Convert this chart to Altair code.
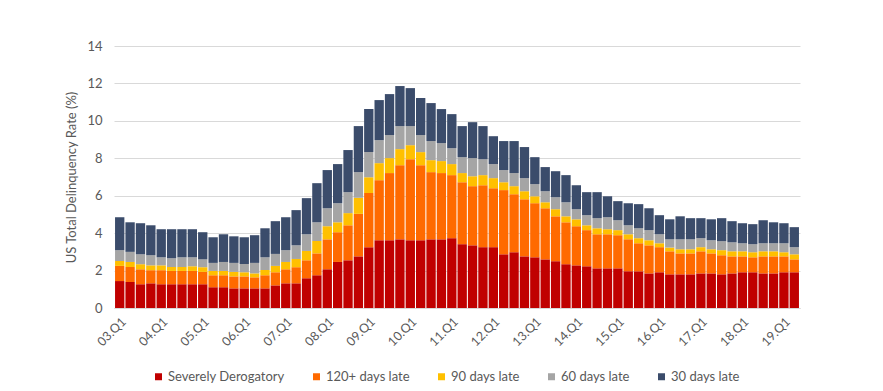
import altair as alt
import pandas as pd

years = list(range(3, 20))
quarters = [f"{y:02d}.Q{q}" for y in years for q in range(1, 5)][:66]

severe = [1.44, 1.39, 1.27, 1.32, 1.27, 1.27, 1.27, 1.27, 1.27, 1.11, 1.11, 1.05, 1.05, 1.05, 1.05, 1.21,
          1.32, 1.32, 1.59, 1.75, 2.07, 2.46, 2.55, 2.76, 3.25, 3.62, 3.62, 3.67, 3.62, 3.62, 3.67, 3.67,
          3.73, 3.41, 3.35, 3.25, 3.25, 2.87, 2.98, 2.76, 2.71, 2.60, 2.50, 2.34, 2.28, 2.23, 2.12, 2.12,
          2.12, 1.96, 1.96, 1.85, 1.91, 1.80, 1.80, 1.80, 1.85, 1.85, 1.80, 1.85, 1.91, 1.91, 1.85, 1.85,
          1.91, 1.91]
late120 = [0.81, 0.80, 0.80, 0.70, 0.75, 0.71, 0.71, 0.71, 0.66, 0.64, 0.64, 0.64, 0.64, 0.59, 0.70, 0.70,
           0.75, 0.86, 0.96, 1.17, 1.60, 1.59, 1.87, 2.27, 2.89, 3.21, 3.59, 3.96, 4.33, 4.01, 3.59, 3.54,
           3.37, 3.31, 3.16, 3.31, 3.15, 3.43, 3.10, 3.05, 2.89, 2.73, 2.40, 2.24, 2.09, 1.93, 1.82, 1.82,
           1.77, 1.71, 1.50, 1.50, 1.34, 1.23, 1.12, 1.12, 1.18, 1.07, 1.02, 0.91, 0.85, 0.80, 0.91, 0.91,
           0.85, 0.69]
late90 = [0.26, 0.27, 0.27, 0.26, 0.26, 0.21, 0.21, 0.25, 0.25, 0.23, 0.23, 0.24, 0.22, 0.21, 0.28, 0.34,
          0.39, 0.44, 0.50, 0.66, 0.70, 0.53, 0.65, 0.86, 0.85, 0.91, 0.80, 0.86, 0.75, 0.70, 0.64, 0.64,
          0.59, 0.49, 0.53, 0.54, 0.54, 0.42, 0.43, 0.43, 0.37, 0.32, 0.38, 0.32, 0.37, 0.26, 0.32, 0.27,
          0.27, 0.27, 0.27, 0.27, 0.21, 0.20, 0.22, 0.22, 0.22, 0.22, 0.27, 0.27, 0.27, 0.27, 0.27, 0.27,
          0.22, 0.27]
late60 = [0.58, 0.54, 0.53, 0.54, 0.43, 0.47, 0.52, 0.48, 0.42, 0.43, 0.48, 0.48, 0.44, 0.56, 0.68, 0.64,
          0.63, 0.73, 0.89, 1.00, 0.96, 1.02, 1.12, 1.37, 1.34, 1.23, 1.23, 1.23, 1.02, 0.91, 1.02, 0.96,
          0.85, 0.85, 0.97, 0.85, 0.75, 0.65, 0.70, 0.70, 0.65, 0.59, 0.64, 0.75, 0.54, 0.54, 0.54, 0.64,
          0.53, 0.48, 0.53, 0.54, 0.48, 0.44, 0.53, 0.53, 0.48, 0.48, 0.48, 0.48, 0.43, 0.43, 0.43, 0.43,
          0.48, 0.38]
late30 = [1.76, 1.58, 1.66, 1.60, 1.50, 1.55, 1.50, 1.50, 1.45, 1.37, 1.48, 1.42, 1.43, 1.48, 1.55, 1.75,
          1.76, 1.88, 1.93, 2.09, 2.04, 2.09, 2.25, 2.46, 2.30, 2.14, 2.19, 2.14, 2.03, 1.98, 2.03, 1.82,
          1.82, 1.66, 1.92, 1.77, 1.49, 1.55, 1.71, 1.66, 1.44, 1.29, 1.39, 1.45, 1.28, 1.23, 1.39, 1.12,
          1.02, 1.18, 1.29, 1.17, 1.02, 1.07, 1.23, 1.13, 1.07, 1.12, 1.23, 1.13, 1.07, 1.07, 1.23, 1.12,
          1.07, 1.07]

series = ["Severely Derogatory", "120+ days late", "90 days late", "60 days late", "30 days late"]
colors = ["#C00000", "#FF6A00", "#FFC000", "#A5A5A5", "#3B4C6B"]
tick_labels = [q for q in quarters if q.endswith("Q1")]

rows = []
for i, q in enumerate(quarters):
    for k, (name, vals) in enumerate(zip(series, [severe, late120, late90, late60, late30])):
        rows.append({"quarter": q, "series": name, "value": vals[i], "order": k})
df = pd.DataFrame(rows)

FONT = "Lato"

chart = alt.Chart(df).mark_bar().encode(
    x=alt.X("quarter:N", sort=quarters, title=None,
            scale=alt.Scale(paddingInner=0.1, paddingOuter=0.1),
            axis=alt.Axis(values=tick_labels, labelAngle=-45, labelFontSize=12.5,
                          labelColor="#595959", labelFont=FONT, ticks=False,
                          domain=True, domainColor="#d9d9d9", labelPadding=7)),
    y=alt.Y("value:Q", stack="zero", title="US Total Delinquency Rate (%)",
            scale=alt.Scale(domain=[0, 14]),
            axis=alt.Axis(values=[0, 2, 4, 6, 8, 10, 12, 14], labelFontSize=13,
                          labelColor="#595959", labelFont=FONT, ticks=False, domain=False,
                          gridColor="#d9d9d9", titleFont=FONT, titleFontSize=13,
                          titleFontWeight="normal", titleColor="#595959", labelPadding=12,
                          titlePadding=8)),
    color=alt.Color("series:N", scale=alt.Scale(domain=series, range=colors),
                    legend=alt.Legend(title=None, orient="none", direction="horizontal",
                                      legendX=38, legendY=324, symbolType="square",
                                      symbolSize=49, symbolStrokeWidth=0, labelFont=FONT,
                                      labelFontSize=13, labelColor="#595959",
                                      columnPadding=25, labelOffset=3)),
    order=alt.Order("order:Q"),
).properties(
    width=686, height=262,
    autosize=alt.AutoSizeParams(type="none"),
    padding={"left": 106, "top": 38, "right": 75, "bottom": 75},
).configure_view(stroke=None).configure_axisX(grid=False)

chart.save("out.html", embed_options={"renderer": "svg", "actions": False})
